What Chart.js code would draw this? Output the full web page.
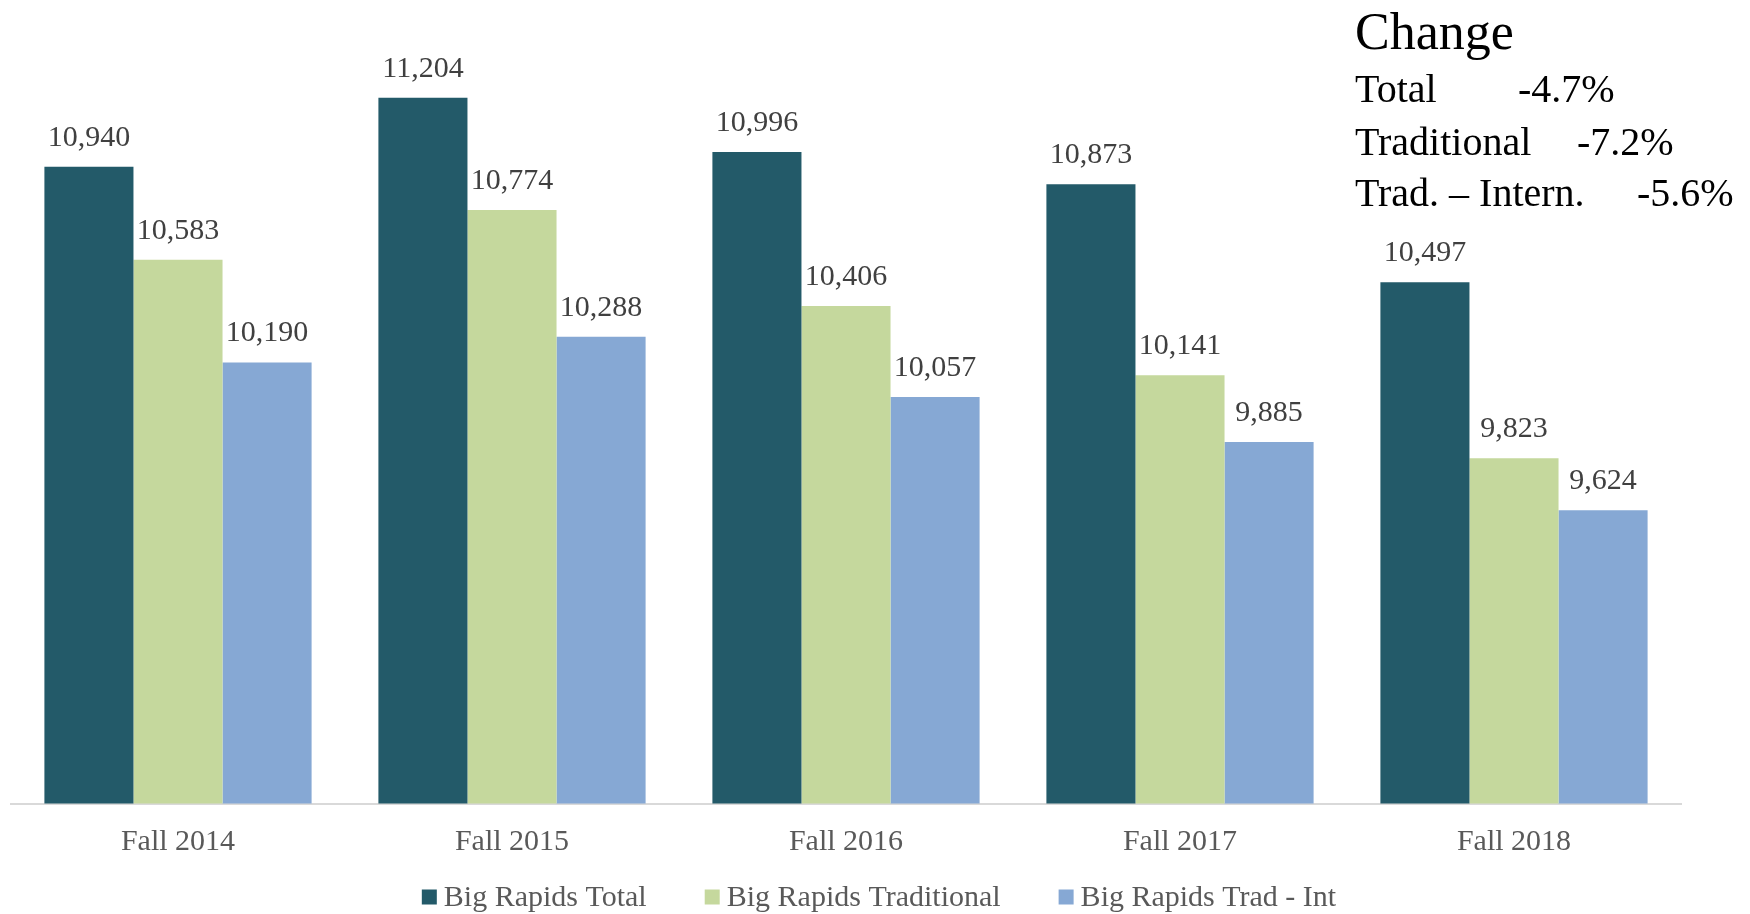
<!DOCTYPE html>
<html>
<head>
<meta charset="utf-8">
<script src="https://cdn.jsdelivr.net/npm/chart.js@4.4.0/dist/chart.umd.min.js"></script>
<style>
  html, body { margin: 0; padding: 0; background: #ffffff; }
  #wrap { width: 1750px; height: 914px; position: relative; }
</style>
</head>
<body>
<div id="wrap"><canvas id="grafico"></canvas></div>
<script>
// Dados do gráfico
const categorias = ['Fall 2014', 'Fall 2015', 'Fall 2016', 'Fall 2017', 'Fall 2018'];
const totalBR = [10940, 11204, 10996, 10873, 10497];
const tradicionalBR = [10583, 10774, 10406, 10141, 9823];
const tradIntBR = [10190, 10288, 10057, 9885, 9624];
const nomesSeries = ['Big Rapids Total', 'Big Rapids Traditional', 'Big Rapids Trad - Int'];

// Caixa "Change" no canto superior direito
const tituloMudanca = 'Change';
const rotulosMudanca = ['Total', 'Traditional', 'Trad. \u2013 Intern.'];
const valoresMudanca = ['-4.7%', '-7.2%', '-5.6%'];

const cores = ['#235a69', '#c5d89d', '#86a8d4'];
const fonteSerif = '"Liberation Serif", "DejaVu Serif", serif';

// Rótulos de valor acima de cada barra
const pluginRotulos = {
    id: 'rotulos',
    afterDatasetsDraw(chart) {
        const ctx = chart.ctx;
        ctx.save();
        ctx.font = '30px ' + fonteSerif;
        ctx.fillStyle = '#404040';
        ctx.textAlign = 'center';
        ctx.textBaseline = 'alphabetic';
        chart.data.datasets.forEach((ds, i) => {
            chart.getDatasetMeta(i).data.forEach((bar, j) => {
                ctx.fillText(ds.data[j].toLocaleString('en-US'), bar.x, bar.y - 21);
            });
        });
        ctx.restore();
    }
};

// Legenda desenhada à mão, centralizada embaixo
const pluginLegenda = {
    id: 'legenda',
    afterDraw(chart) {
        const ctx = chart.ctx;
        ctx.save();
        ctx.font = '30px ' + fonteSerif;
        const caixa = 15, espaco = 7, gap = 58;
        const larguras = chart.data.datasets.map(ds => caixa + espaco + ctx.measureText(ds.label).width);
        const total = larguras.reduce((a, b) => a + b, 0) + gap * (larguras.length - 1);
        let x = chart.width / 2 + 4 - total / 2;
        const yc = 897;
        chart.data.datasets.forEach((ds, i) => {
            ctx.fillStyle = ds.backgroundColor;
            ctx.fillRect(x, yc - caixa / 2, caixa, caixa);
            ctx.fillStyle = '#595959';
            ctx.textBaseline = 'middle';
            ctx.textAlign = 'left';
            ctx.fillText(ds.label, x + caixa + espaco, yc + 1);
            x += larguras[i] + gap;
        });
        ctx.restore();
    }
};

// Texto "Change" com as variações
const pluginMudanca = {
    id: 'mudanca',
    afterDraw(chart) {
        const ctx = chart.ctx;
        ctx.save();
        ctx.fillStyle = '#000000';
        ctx.textAlign = 'left';
        ctx.textBaseline = 'alphabetic';
        ctx.font = '52px ' + fonteSerif;
        ctx.fillText(tituloMudanca, 1355, 49);
        ctx.font = '40px ' + fonteSerif;
        const linhas = [102, 155, 206];
        const xValores = [1518, 1577, 1637];
        rotulosMudanca.forEach((r, i) => {
            ctx.fillText(r, 1355, linhas[i]);
            ctx.fillText(valoresMudanca[i], xValores[i], linhas[i]);
        });
        ctx.restore();
    }
};

const ctxGrafico = document.getElementById('grafico').getContext('2d');
new Chart(ctxGrafico, {
    type: 'bar',
    data: {
        labels: categorias,
        datasets: [
            { label: nomesSeries[0], data: totalBR, backgroundColor: cores[0] },
            { label: nomesSeries[1], data: tradicionalBR, backgroundColor: cores[1] },
            { label: nomesSeries[2], data: tradIntBR, backgroundColor: cores[2] }
        ]
    },
    options: {
        responsive: true,
        maintainAspectRatio: false,
        animation: false,
        layout: { padding: { left: 11, right: 69, top: 20.5, bottom: 41.5 } },
        datasets: { bar: { categoryPercentage: 0.8, barPercentage: 1.0, borderWidth: 0 } },
        plugins: {
            legend: { display: false },
            tooltip: { enabled: false }
        },
        scales: {
            x: {
                grid: { display: false },
                border: { display: true, color: '#d9d9d9', width: 2 },
                ticks: {
                    color: '#595959',
                    padding: 12.5,
                    font: { family: fonteSerif, size: 30 }
                }
            },
            y: {
                display: false,
                min: 8500,
                max: 11500
            }
        }
    },
    plugins: [pluginRotulos, pluginLegenda, pluginMudanca]
});
</script>
</body>
</html>
